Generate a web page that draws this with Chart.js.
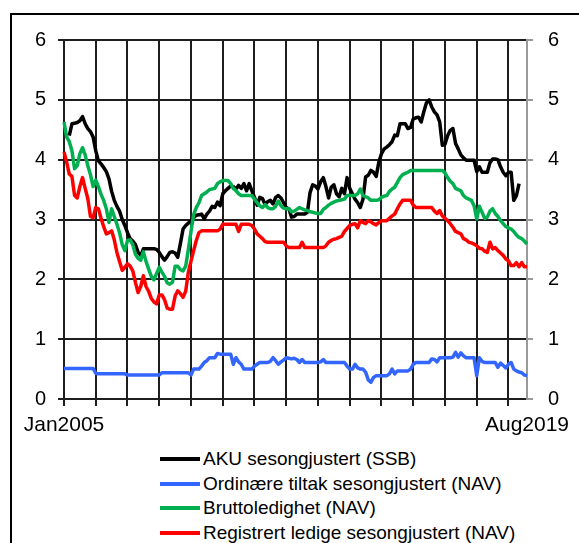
<!DOCTYPE html>
<html>
<head>
<meta charset="utf-8">
<script src="https://cdn.jsdelivr.net/npm/chart.js@4"></script>
<style>
  html, body { margin: 0; padding: 0; background: #fff; overflow: hidden; }
  body { width: 579px; height: 543px; position: relative; font-family: 'Liberation Sans', Arial, sans-serif; }
  #frame { position: absolute; left: 10px; top: 13px; width: 700px; height: 700px; border-left: 2px solid #000; border-top: 2px solid #000; }
  #chart { position: absolute; left: 0; top: 0; }
  #legend { position: absolute; left: 160px; top: 447px; font-size: 19px; color: #000; }
  #legend div { height: 24.6px; line-height: 24.6px; white-space: nowrap; }
  #legend span.swatch { display: inline-block; width: 40px; height: 4px; vertical-align: middle; margin-right: 3px; position: relative; top: -1px; }
</style>
</head>
<body>
<div id="frame"></div>
<canvas id="chart" width="579" height="445"></canvas>
<div id="legend"></div>
<script>
// monthly series, Jan 2005 - Aug 2019 (percent)
const startYear = 2005
const monthCount = 176
const monthNames = ['Jan', 'Feb', 'Mar', 'Apr', 'May', 'Jun', 'Jul', 'Aug', 'Sep', 'Oct', 'Nov', 'Dec']

const seriesNames = [
  'AKU sesongjustert (SSB)',
  'Ordinære tiltak sesongjustert (NAV)',
  'Bruttoledighet (NAV)',
  'Registrert ledige sesongjustert (NAV)'
]

const aku = [
  null, null, 4.40, 4.60, 4.61, 4.62, 4.65, 4.72, 4.60, 4.52, 4.47, 4.38,
  4.15, 3.98, 3.93, 3.87, 3.80, 3.68, 3.47, 3.32, 3.22, 3.14, 3.00, 2.90,
  2.78, 2.68, 2.64, 2.58, 2.45, 2.40, 2.51, 2.51, 2.51, 2.51, 2.51, 2.50,
  2.45, 2.38, 2.32, 2.38, 2.45, 2.46, 2.44, 2.37, 2.60, 2.84, 2.90, 2.94,
  2.98, 3.03, 3.07, 3.08, 3.09, 3.01, 3.09, 3.14, 3.22, 3.20, 3.29, 3.23,
  3.43, 3.48, 3.52, 3.56, 3.55, 3.51, 3.57, 3.52, 3.60, 3.48, 3.60, 3.48,
  3.37, 3.24, 3.37, 3.35, 3.25, 3.30, 3.32, 3.26, 3.37, 3.40, 3.36, 3.28,
  3.20, 3.18, 3.04, 3.05, 3.09, 3.09, 3.09, 3.09, 3.12, 3.45, 3.58, 3.56,
  3.51, 3.63, 3.70, 3.55, 3.36, 3.54, 3.58, 3.43, 3.38, 3.52, 3.43, 3.70,
  3.52, 3.43, 3.34, 3.28, 3.20, 3.34, 3.71, 3.74, 3.82, 3.79, 3.72, 3.96,
  4.10, 4.18, 4.21, 4.25, 4.30, 4.41, 4.40, 4.60, 4.60, 4.60, 4.52, 4.54,
  4.68, 4.70, 4.71, 4.63, 4.80, 4.95, 5.00, 4.88, 4.80, 4.75, 4.63, 4.24,
  4.26, 4.40, 4.49, 4.52, 4.27, 4.18, 4.08, 4.03, 3.99, 3.99, 3.99, 3.99,
  3.80, 3.88, 3.79, 3.79, 3.79, 3.95, 4.01, 4.01, 4.00, 3.88, 3.79, 3.73,
  3.79, 3.79, 3.32, 3.40, 3.60, null, null, null
]

const tiltak = [
  0.51, 0.51, 0.51, 0.51, 0.51, 0.51, 0.51, 0.51, 0.51, 0.51, 0.51, 0.51,
  0.43, 0.42, 0.42, 0.42, 0.42, 0.42, 0.42, 0.42, 0.42, 0.42, 0.42, 0.42,
  0.40, 0.40, 0.40, 0.40, 0.40, 0.40, 0.40, 0.40, 0.40, 0.40, 0.40, 0.40,
  0.40, 0.44, 0.44, 0.44, 0.44, 0.44, 0.44, 0.44, 0.44, 0.44, 0.44, 0.44,
  0.40, 0.50, 0.50, 0.50, 0.55, 0.61, 0.64, 0.69, 0.69, 0.69, 0.76, 0.75,
  0.75, 0.75, 0.75, 0.75, 0.58, 0.69, 0.62, 0.58, 0.50, 0.50, 0.50, 0.50,
  0.55, 0.58, 0.61, 0.61, 0.61, 0.61, 0.63, 0.69, 0.64, 0.58, 0.62, 0.65,
  0.69, 0.68, 0.67, 0.68, 0.66, 0.61, 0.66, 0.61, 0.61, 0.61, 0.61, 0.61,
  0.61, 0.62, 0.66, 0.61, 0.61, 0.61, 0.61, 0.61, 0.61, 0.61, 0.61, 0.55,
  0.50, 0.50, 0.58, 0.52, 0.50, 0.50, 0.45, 0.32, 0.28, 0.36, 0.39, 0.39,
  0.39, 0.39, 0.39, 0.42, 0.50, 0.42, 0.47, 0.47, 0.47, 0.47, 0.47, 0.50,
  0.58, 0.61, 0.61, 0.61, 0.61, 0.61, 0.61, 0.67, 0.66, 0.62, 0.69, 0.69,
  0.69, 0.69, 0.69, 0.70, 0.78, 0.70, 0.77, 0.72, 0.69, 0.69, 0.69, 0.69,
  0.39, 0.69, 0.63, 0.61, 0.61, 0.61, 0.61, 0.61, 0.53, 0.60, 0.56, 0.52,
  0.58, 0.61, 0.50, 0.47, 0.45, 0.44, 0.40, 0.39
]

const brutto = [
  4.63, 4.38, 4.30, 4.15, 3.85, 3.90, 4.10, 4.20, 4.08, 3.90, 3.75, 3.55,
  3.66, 3.55, 3.42, 3.32, 3.18, 2.95, 3.18, 3.05, 2.92, 2.78, 2.58, 2.48,
  2.65, 2.66, 2.58, 2.42, 2.35, 2.32, 2.46, 2.30, 2.17, 2.05, 1.99, 2.10,
  2.20, 2.12, 2.05, 1.94, 1.92, 1.95, 2.22, 2.22, 2.16, 2.14, 2.22, 2.50,
  2.80, 3.08, 3.20, 3.28, 3.40, 3.43, 3.46, 3.50, 3.51, 3.52, 3.60, 3.63,
  3.65, 3.65, 3.65, 3.60, 3.52, 3.48, 3.43, 3.40, 3.40, 3.40, 3.40, 3.40,
  3.34, 3.28, 3.23, 3.20, 3.25, 3.20, 3.18, 3.18, 3.22, 3.31, 3.23, 3.19,
  3.18, 3.18, 3.13, 3.14, 3.17, 3.20, 3.18, 3.16, 3.15, 3.13, 3.12, 3.11,
  3.10, 3.10, 3.17, 3.20, 3.24, 3.27, 3.29, 3.31, 3.32, 3.33, 3.34, 3.40,
  3.40, 3.40, 3.40, 3.43, 3.51, 3.40, 3.38, 3.36, 3.32, 3.32, 3.32, 3.33,
  3.37, 3.39, 3.40, 3.47, 3.51, 3.54, 3.62, 3.70, 3.75, 3.77, 3.79, 3.82,
  3.82, 3.82, 3.82, 3.82, 3.82, 3.82, 3.82, 3.82, 3.82, 3.82, 3.82, 3.82,
  3.78, 3.70, 3.64, 3.60, 3.52, 3.50, 3.48, 3.40, 3.36, 3.34, 3.32, 3.23,
  3.01, 3.22, 3.12, 3.02, 3.04, 3.14, 3.18, 3.10, 3.05, 2.98, 2.93, 2.88,
  2.86, 2.84, 2.80, 2.74, 2.70, 2.68, 2.64, 2.59
]

const registrert = [
  4.13, 3.96, 3.76, 3.72, 3.40, 3.36, 3.55, 3.70, 3.52, 3.35, 3.05, 3.03,
  3.20, 3.18, 3.02, 2.88, 2.76, 2.78, 2.81, 2.66, 2.45, 2.30, 2.15, 2.20,
  2.26, 2.22, 2.14, 1.95, 1.78, 1.88, 2.06, 1.88, 1.80, 1.68, 1.62, 1.59,
  1.74, 1.74, 1.66, 1.52, 1.50, 1.50, 1.72, 1.81, 1.76, 1.70, 1.80, 2.12,
  2.30, 2.48, 2.65, 2.78, 2.81, 2.81, 2.81, 2.81, 2.81, 2.81, 2.81, 2.84,
  2.92, 2.92, 2.92, 2.92, 2.92, 2.92, 2.80, 2.92, 2.92, 2.92, 2.92, 2.90,
  2.84, 2.76, 2.72, 2.68, 2.63, 2.62, 2.62, 2.62, 2.62, 2.62, 2.62, 2.62,
  2.56, 2.53, 2.53, 2.53, 2.53, 2.53, 2.62, 2.53, 2.53, 2.53, 2.53, 2.53,
  2.53, 2.53, 2.53, 2.56, 2.62, 2.65, 2.67, 2.68, 2.70, 2.72, 2.80, 2.85,
  2.90, 2.92, 2.93, 2.86, 2.98, 2.95, 2.93, 2.98, 2.96, 2.93, 2.91, 2.95,
  2.98, 2.98, 2.98, 3.02, 3.06, 3.09, 3.18, 3.26, 3.32, 3.32, 3.32, 3.32,
  3.24, 3.20, 3.20, 3.20, 3.20, 3.20, 3.20, 3.20, 3.14, 3.10, 3.15, 3.06,
  3.02, 2.98, 2.93, 2.87, 2.80, 2.78, 2.76, 2.68, 2.66, 2.62, 2.61, 2.59,
  2.56, 2.52, 2.51, 2.47, 2.45, 2.62, 2.51, 2.53, 2.48, 2.44, 2.40, 2.34,
  2.31, 2.23, 2.23, 2.28, 2.21, 2.28, 2.21, 2.21
]

const seriesColors = ['#000000', '#3366ff', '#00b050', '#ff0000']
const yTicks = [0, 1, 2, 3, 4, 5, 6]

// month labels, only first and last are shown
const labels = []
for (let i = 0; i < monthCount; i++) {
  labels.push(monthNames[i % 12] + (startYear + Math.floor(i / 12)))
}
const lastIdx = labels.length - 1

const tickFont = { family: "'Liberation Sans', Arial, sans-serif", size: 20 }
const xFont = { family: "'Liberation Sans', Arial, sans-serif", size: 21 }
const gridBlack = '#1e1e1e'
const axisGray = '#9a9a9a'

const yearGrid = (ctx) => {
  if (ctx.index === lastIdx) return 'rgba(0,0,0,0)'
  return ctx.index % 12 === 0 ? gridBlack : 'rgba(0,0,0,0)'
}

const makeLine = (i, data, order) => ({
  label: seriesNames[i],
  data: data,
  borderColor: seriesColors[i],
  backgroundColor: seriesColors[i],
  borderWidth: 3.5,
  pointRadius: 0,
  tension: 0,
  borderJoinStyle: 'round',
  fill: false,
  spanGaps: false,
  order: order
})

new Chart(document.getElementById('chart'), {
  type: 'line',
  data: {
    labels: labels,
    datasets: [
      makeLine(0, aku, 4),
      makeLine(1, tiltak, 3),
      makeLine(2, brutto, 2),
      makeLine(3, registrert, 1)
    ]
  },
  options: {
    responsive: false,
    devicePixelRatio: 1,
    animation: false,
    layout: { padding: { top: 40, left: 0, right: 0, bottom: 0 } },
    plugins: {
      legend: { display: false },
      tooltip: { enabled: false }
    },
    scales: {
      x: {
        type: 'category',
        offset: false,
        grid: { color: yearGrid, tickColor: yearGrid, lineWidth: 2, tickLength: 7 },
        border: { color: gridBlack, width: 2 },
        ticks: {
          autoSkip: false,
          maxRotation: 0,
          minRotation: 0,
          padding: 7,
          color: '#000',
          font: xFont,
          callback: (v, i) => (i === 0 || i === lastIdx) ? labels[i] : ''
        },
        afterFit: (s) => { s.height = 46 }
      },
      y: {
        position: 'left',
        min: 0,
        max: 6,
        afterBuildTicks: (s) => { s.ticks = yTicks.map(v => ({ value: v })) },
        grid: { color: gridBlack, lineWidth: 2, tickLength: 6 },
        border: { color: gridBlack, width: 2 },
        ticks: { padding: 12, color: '#000', font: tickFont },
        afterFit: (s) => { s.width = 64 }
      },
      y2: {
        position: 'right',
        min: 0,
        max: 6,
        afterBuildTicks: (s) => { s.ticks = yTicks.map(v => ({ value: v })) },
        grid: { drawOnChartArea: false, color: axisGray, lineWidth: 2, tickLength: 6 },
        border: { color: axisGray, width: 2 },
        ticks: { padding: 15, color: '#000', font: tickFont },
        afterFit: (s) => { s.width = 52 }
      }
    }
  }
})

// legend stacked as in the original
const legendEl = document.getElementById('legend')
seriesNames.forEach((name, i) => {
  const row = document.createElement('div')
  const sw = document.createElement('span')
  sw.className = 'swatch'
  sw.style.background = seriesColors[i]
  row.appendChild(sw)
  row.appendChild(document.createTextNode(name))
  legendEl.appendChild(row)
})
</script>
</body>
</html>
